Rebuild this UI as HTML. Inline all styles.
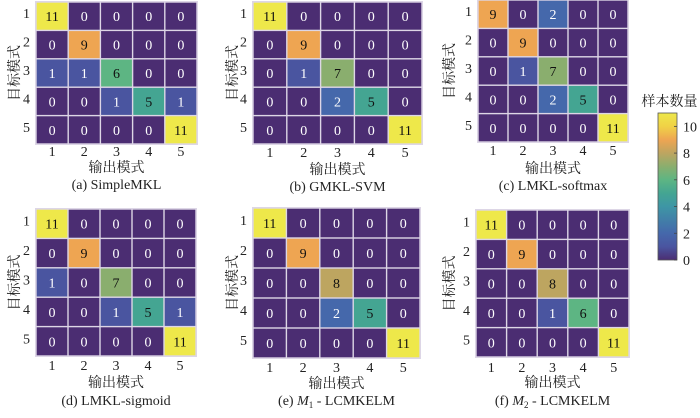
<!DOCTYPE html>
<html><head><meta charset="utf-8"><style>
body{margin:0;background:#fff;width:700px;height:413px;overflow:hidden}
svg text{font-family:"Liberation Serif","Times New Roman","Noto Serif CJK SC",serif;}
</style></head><body>
<svg id="c" width="700" height="413"></svg>
<script>
const categories=["1","2","3","4","5"];
const matA=[[11,0,0,0,0],[0,9,0,0,0],[1,1,6,0,0],[0,0,1,5,1],[0,0,0,0,11]];
const matB=[[11,0,0,0,0],[0,9,0,0,0],[0,1,7,0,0],[0,0,2,5,0],[0,0,0,0,11]];
const matC=[[9,0,2,0,0],[0,9,0,0,0],[0,1,7,0,0],[0,0,2,5,0],[0,0,0,0,11]];
const matD=[[11,0,0,0,0],[0,9,0,0,0],[1,0,7,0,0],[0,0,1,5,1],[0,0,0,0,11]];
const matE=[[11,0,0,0,0],[0,9,0,0,0],[0,0,8,0,0],[0,0,2,5,0],[0,0,0,0,11]];
const matF=[[11,0,0,0,0],[0,9,0,0,0],[0,0,8,0,0],[0,0,1,6,0],[0,0,0,0,11]];
const captions=["(a) SimpleMKL","(b) GMKL-SVM","(c) LMKL-softmax","(d) LMKL-sigmoid","(e) M1 - LCMKELM","(f) M2 - LCMKELM"];
const cbTicks=[0,2,4,6,8,10];
const cMin=0,cMax=11;

const NS="http://www.w3.org/2000/svg";
const svg=document.getElementById('c');
function el(t,a,p){const e=document.createElementNS(NS,t);for(const k in a)e.setAttribute(k,a[k]);(p||svg).appendChild(e);return e;}
const stops=[[0,[75,45,114]],[1,[74,85,160]],[2,[69,104,171]],[4,[62,150,165]],[5,[68,165,146]],[6,[93,181,131]],[7,[138,174,110]],[8,[189,165,96]],[9,[238,165,82]],[10,[240,210,70]],[11,[238,232,74]]];
function color(v){for(let i=1;i<stops.length;i++){if(v<=stops[i][0]){const a=stops[i-1],b=stops[i];const t=(v-a[0])/(b[0]-a[0]);const c=a[1].map((x,j)=>Math.round(x+(b[1][j]-x)*t));return `rgb(${c})`;}}return `rgb(${stops[stops.length-1][1]})`;}

const panels=[
 {m:matA,x0:36,x1:197,y0:2,y1:144,tk:156,xl:172,cap:189,yt:14},
 {m:matB,x0:253,x1:422,y0:2,y1:144,tk:157,xl:174,cap:191,yt:232},
 {m:matC,x0:478,x1:628,y0:0,y1:142,tk:155,xl:173,cap:190,yt:449},
 {m:matD,x0:36,x1:196,y0:209,y1:356,tk:370,xl:387,cap:405,yt:14},
 {m:matE,x0:253,x1:420,y0:208,y1:358,tk:372,xl:388,cap:405,yt:232},
 {m:matF,x0:476,x1:629,y0:210,y1:357,tk:372,xl:387,cap:405,yt:449}
];
panels.forEach((p,pi)=>{
 const g=el('g',{});
 
 
 const cw=(p.x1-p.x0)/5,ch=(p.y1-p.y0)/5;
 const xs=i=>p.x0+i*cw, ys=i=>p.y0+i*ch;
 const bg=el('rect',{x:p.x0-1,y:p.y0-1,width:p.x1-p.x0+2,height:p.y1-p.y0+2,fill:'#ddd6e6'},g);
 
 p.m.forEach((row,r)=>row.forEach((v,c)=>{
  const rc=el('rect',{x:xs(c)+0.7,y:ys(r)+0.7,width:cw-1.4,height:ch-1.4,fill:color(v)},g);
  
  
  const t=el('text',{x:xs(c)+cw/2,y:ys(r)+ch/2+5,'text-anchor':'middle','font-size':'14',fill:v>=5?'#111':'#fff'},g);
  t.textContent=v;
  
  
 }));
 categories.forEach((lab,i)=>{
  const tx=el('text',{x:xs(i)+cw/2,y:p.tk,'text-anchor':'middle','font-size':'14',fill:'#222'},g);
  tx.textContent=lab;
  
  
  const ty=el('text',{x:p.x0-6,y:ys(i)+ch/2+2,'text-anchor':'end','font-size':'14',fill:'#222'},g);
  ty.textContent=lab;
  
  
 });
 const xl=el('text',{x:(p.x0+p.x1)/2,y:p.xl,'text-anchor':'middle','font-size':'14',fill:'#222'},g);
 xl.textContent='输出模式';
 
 
 const cy=(p.y0+p.y1)/2;
 const yl=el('text',{x:p.yt,y:cy,'text-anchor':'middle','font-size':'14',fill:'#222',transform:`rotate(-90 ${p.yt} ${cy})`,dy:'5'},g);
 yl.textContent='目标模式';
 
 
 const cap=el('text',{x:(p.x0+p.x1)/2,y:p.cap,'text-anchor':'middle','font-size':'14',fill:'#222'},g);
 
 
 const txt=captions[pi];
 if(txt.indexOf(' M')===3){
  cap.appendChild(document.createTextNode(txt.slice(0,4)));
  const it=el('tspan',{'font-style':'italic'},cap);it.textContent='M';
  const sb=el('tspan',{'font-size':'9',dy:'3'},cap);sb.textContent=txt[5];
  const rest=el('tspan',{dy:'-3'},cap);rest.textContent=txt.slice(6);
 } else cap.textContent=txt;
});
// colorbar
const cbX=658,cbW=19,cbTop=113,cbBot=260;
const cy=v=>cbBot-(v-cMin)/(cMax-cMin)*(cbBot-cbTop);
const defs=el('defs',{});
const lg=el('linearGradient',{id:'cbg',x1:'0',y1:'1',x2:'0',y2:'0'},defs);
stops.forEach(s=>el('stop',{offset:(s[0]/cMax),'stop-color':`rgb(${s[1]})`},lg));
const cb=el('rect',{x:cbX,y:cbTop,width:cbW,height:cbBot-cbTop,fill:'url(#cbg)',stroke:'#555','stroke-width':'0.8'});


cbTicks.forEach(v=>{
 el('line',{x1:cbX+cbW-3,x2:cbX+cbW,y1:cy(v),y2:cy(v),stroke:'#444','stroke-width':'0.8'});
 const t=el('text',{x:cbX+cbW+6,y:cy(v)+5,'font-size':'14',fill:'#222'});
 t.textContent=v;
 
 
});
const ct=el('text',{x:cbX+cbW/2+2,y:106,'text-anchor':'middle','font-size':'14',fill:'#222'});
ct.textContent='样本数量';


</script>
</body></html>
